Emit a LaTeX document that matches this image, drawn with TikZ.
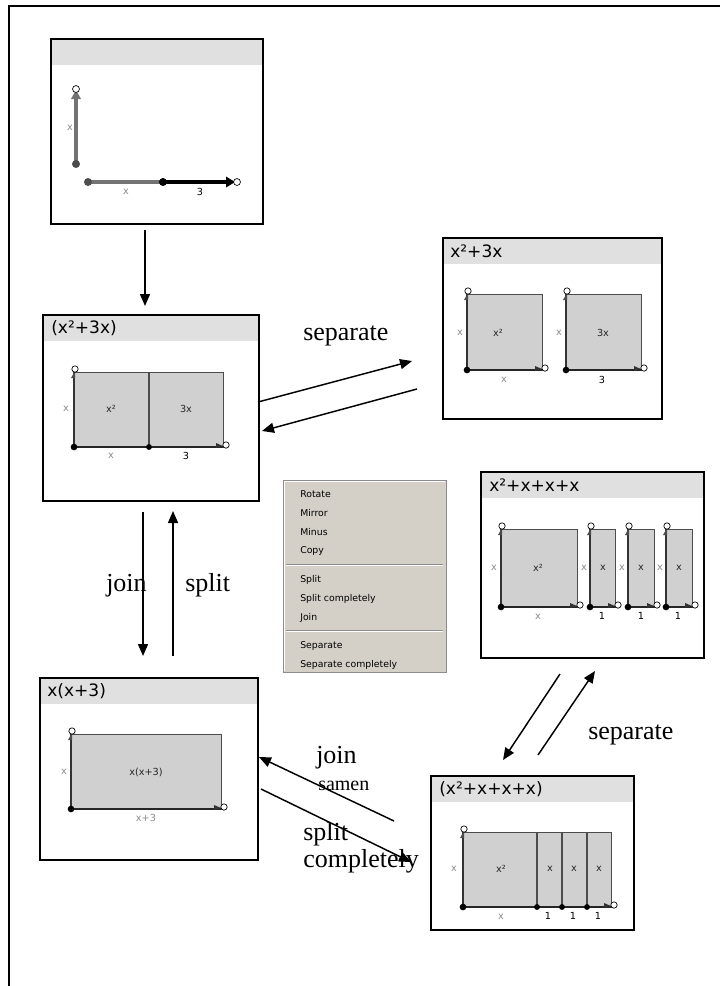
\documentclass[tikz,border=0pt]{standalone}
\usepackage{fontspec}
\setmainfont{Liberation Serif}
\newfontfamily\uifont{DejaVu Sans}
\usetikzlibrary{arrows.meta,fit,calc}
\definecolor{titlegray}{HTML}{E0E0E0}
\definecolor{blockgray}{HTML}{D0D0D0}
\definecolor{menugray}{HTML}{D4D0C8}
\newcommand\dimfont{\uifont\fontsize{7.3}{8}\selectfont}
% panel: name x1 y1 x2 y2
\newcommand\mypanel[5]{%
  \fill[white] (#2,#3) rectangle (#4,#5);
  \fill[titlegray] (#2,#3) rectangle (#4,#3+26);
  \node[draw, line width=1.6pt, fit={(#2,#3) (#4,#5)}, inner sep=0pt] (#1) {};
}
% block rectangle
\newcommand\myblock[4]{%
  \draw[draw=black!70, fill=blockgray, line width=0.6pt] (#1,#2) rectangle (#3,#4);
  \draw[line width=1.3pt, black!85] (#1,#4) -- (#3,#4);
  \draw[line width=1pt, black!80] (#1,#4) -- (#1,#2);
}
% corner decorations
\newcommand\mycorners[4]{%
  \fill[black!70] (#1-3,#2+6) -- (#1+1,#2+6) -- (#1+1,#2-1) -- cycle;
  \draw[black, line width=0.5pt, fill=white] (#1+1,#2-3) circle (2.4pt);
  \fill[black!80] (#3-7,#4-4) -- (#3-7,#4+1) -- (#3,#4-1) -- cycle;
  \draw[black, line width=0.5pt, fill=white] (#3+3,#4-2) circle (2.4pt);
  \fill[black] (#1,#4) circle (2.5pt);
}
\begin{document}
\begin{tikzpicture}[x=0.75pt,y=-0.75pt,
  flow/.style={line width=1.1pt, -{Triangle[length=9pt,width=7.5pt]}},
  lbl/.style={font=\fontsize{19.5}{21}\selectfont, inner sep=0pt, anchor=base west},
  small/.style={font=\fontsize{15}{17}\selectfont, inner sep=0pt, anchor=base west},
  ttl/.style={font=\uifont\fontsize{12.8}{14}\selectfont, inner sep=0pt, anchor=west},
  dim/.style={font=\dimfont, text=black!45, inner sep=0pt},
  num/.style={font=\dimfont, text=black, inner sep=0pt},
  inl/.style={font=\dimfont, text=black!85, inner sep=0pt},
  menuitem/.style={font=\uifont\fontsize{7}{8}\selectfont, inner sep=0pt, anchor=west}]
\useasboundingbox (0,0) rectangle (720,986);
% outer frame
\draw[line width=1.5pt] (9,986) -- (9,6) -- (720,6);

% ---------- panel 1 ----------
\mypanel{p1}{51}{39}{263}{224}
\draw[line width=2.4pt, black!55] (76,164) -- (76,96);
\fill[black!55] (71,99) -- (81,99) -- (76,90) -- cycle;
\draw[black, line width=0.5pt, fill=white] (76,89) circle (2.6pt);
\fill[black!70] (76,164) circle (3pt);
\node[dim] (p1vx) at (70,128) {x};
\draw[line width=2.4pt, black!55] (88,182) -- (163,182);
\draw[line width=2.4pt, black] (163,182) -- (228,182);
\fill[black] (226,176.5) -- (226,187.5) -- (235,182) -- cycle;
\draw[black, line width=0.5pt, fill=white] (237,182) circle (2.6pt);
\fill[black!70] (88,182) circle (3pt);
\fill[black] (163,182) circle (3pt);
\node[dim] (p1hx) at (126,192) {x};
\node[num] (p1h3) at (200,192) {3};

% ---------- panel 2 ----------
\mypanel{p2}{43}{315}{259}{501}
\node[ttl] (t2) at (51,328) {(x²+3x)};
\myblock{74}{372}{223}{447}
\draw[black!70, line width=0.8pt] (149,372) -- (149,447);
\mycorners{74}{372}{223}{447}
\fill[black] (149,447) circle (2.2pt);
\node[inl] (p2a) at (111,409) {x²};
\node[inl] (p2b) at (186,409) {3x};
\node[dim] (p2l) at (66,409) {x};
\node[dim] (p2bx) at (111,456) {x};
\node[num] (p2b3) at (186,456) {3};

% ---------- panel 3 ----------
\mypanel{p3}{443}{238}{662}{419}
\node[ttl] (t3) at (450,251) {x²+3x};
\myblock{467}{294}{542}{370}
\mycorners{467}{294}{542}{370}
\myblock{566}{294}{641}{370}
\mycorners{566}{294}{641}{370}
\node[inl] (p3a) at (498,333) {x²};
\node[inl] (p3b) at (603,333) {3x};
\node[dim] (p3l1) at (460,333) {x};
\node[dim] (p3l2) at (559,333) {x};
\node[dim] (p3bx) at (504,380) {x};
\node[num] (p3b3) at (602,380) {3};

% ---------- panel 4 ----------
\mypanel{p4}{481}{472}{704}{658}
\node[ttl] (t4) at (489,485) {x²+x+x+x};
\myblock{501}{529}{577}{607}
\mycorners{501}{529}{577}{607}
\myblock{590}{529}{615}{607}
\mycorners{590}{529}{615}{607}
\myblock{628}{529}{654}{607}
\mycorners{628}{529}{654}{607}
\myblock{666}{529}{692}{607}
\mycorners{666}{529}{692}{607}
\node[inl] (p4a) at (538,568) {x²};
\node[inl] (p4b) at (603,568) {x};
\node[inl] (p4c) at (641,568) {x};
\node[inl] (p4d) at (679,568) {x};
\node[dim] (p4l1) at (494,568) {x};
\node[dim] (p4l2) at (584,568) {x};
\node[dim] (p4l3) at (622,568) {x};
\node[dim] (p4l4) at (660,568) {x};
\node[dim] (p4bx) at (538,617) {x};
\node[num] (p4b1) at (602,616) {1};
\node[num] (p4b2) at (641,616) {1};
\node[num] (p4b3) at (678,616) {1};

% ---------- panel 5 ----------
\mypanel{p5}{40}{678}{258}{860}
\node[ttl] (t5) at (47,691) {x(x+3)};
\myblock{71}{734}{221}{809}
\mycorners{71}{734}{221}{809}
\node[inl] (p5a) at (146,772) {x(x+3)};
\node[dim] (p5l) at (64,772) {x};
\node[dim] (p5b) at (146,818) {x+3};

% ---------- panel 6 ----------
\mypanel{p6}{431}{776}{634}{930}
\node[ttl] (t6) at (439,789) {(x²+x+x+x)};
\myblock{463}{832}{611}{907}
\foreach \d in {537,562,587} {\draw[black!70, line width=0.8pt] (\d,832) -- (\d,907);}
\mycorners{463}{832}{611}{907}
\foreach \d in {537,562,587} {\fill[black] (\d,907) circle (2.2pt);}
\node[inl] (p6a) at (501,869) {x²};
\node[inl] (p6b) at (550,869) {x};
\node[inl] (p6c) at (574,869) {x};
\node[inl] (p6d) at (599,869) {x};
\node[dim] (p6l) at (454,869) {x};
\node[dim] (p6bx) at (501,917) {x};
\node[num] (p6b1) at (548,916) {1};
\node[num] (p6b2) at (573,916) {1};
\node[num] (p6b3) at (598,916) {1};

% ---------- context menu ----------
\node[fill=menugray, draw=black!45, line width=0.5pt, fit={(283,480) (446,672)}, inner sep=0pt] (menu) {};
\draw[white, line width=0.6pt] (284,671) -- (284,481) -- (445,481);
\foreach \yy/\txt [count=\i] in {494/Rotate,513/Mirror,532/Minus,551/Copy,580/Split,599/Split completely,618/Join,646/Separate,665/Separate completely}
  {\node[menuitem] (m\i) at (300,\yy) {\txt};}
\foreach \yy in {564,630} {
  \draw[black!45, line width=0.5pt] (286,\yy) -- (443,\yy);
  \draw[white, line width=0.5pt] (286,\yy+1) -- (443,\yy+1);
}

% ---------- connectors ----------
\coordinate (a1s) at (145,230); \coordinate (a1e) at (145,306);
\draw[flow] (a1s) -- (a1e);
\coordinate (s1s) at (258,402); \coordinate (s1e) at (412,361);
\draw[flow] (s1s) -- (s1e);
\coordinate (s2s) at (417,389); \coordinate (s2e) at (262,431);
\draw[flow] (s2s) -- (s2e);
\node[lbl] (lsep1) at (303,340) {separate};
\coordinate (js) at (143,512); \coordinate (je) at (143,656);
\draw[flow] (js) -- (je);
\coordinate (ss) at (173,656); \coordinate (se) at (173,511);
\draw[flow] (ss) -- (se);
\node[lbl] (ljoin1) at (106,591) {join};
\node[lbl] (lsplit1) at (185,591) {split};
\coordinate (r1s) at (560,674); \coordinate (r1e) at (503,760);
\draw[flow] (r1s) -- (r1e);
\coordinate (r2s) at (538,755); \coordinate (r2e) at (595,671);
\draw[flow] (r2s) -- (r2e);
\node[lbl] (lsep2) at (588,739) {separate};
\coordinate (b1s) at (394,821); \coordinate (b1e) at (259,757);
\draw[flow] (b1s) -- (b1e);
\coordinate (b2s) at (261,789); \coordinate (b2e) at (411,862);
\draw[flow] (b2s) -- (b2e);
\node[lbl] (ljoin2) at (316,763) {join};
\node[small] (lsamen) at (318,790) {samen};
\node[lbl] (lsplit2) at (303,840) {split};
\node[lbl] (lcomp) at (303,867) {completely};
\end{tikzpicture}
\end{document}
